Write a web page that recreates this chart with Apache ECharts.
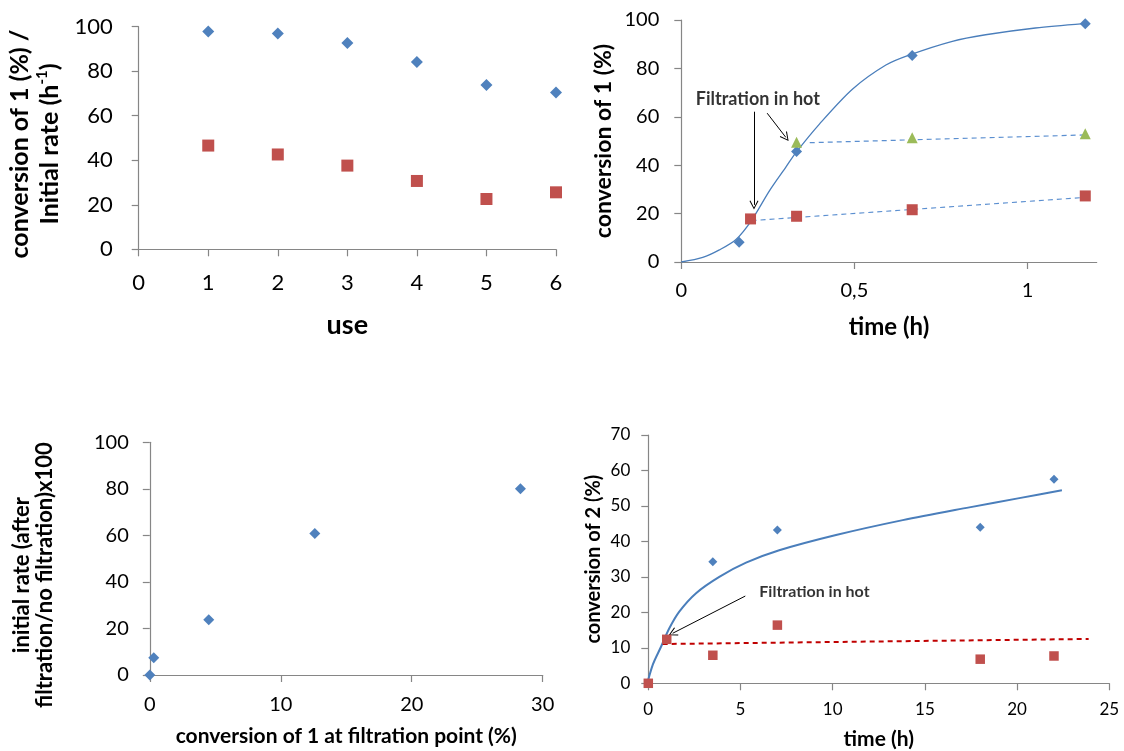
<!DOCTYPE html>
<html>
<head>
<meta charset="utf-8">
<script src="https://cdn.jsdelivr.net/npm/echarts@6/dist/echarts.min.js"></script>
<style>
html,body{margin:0;padding:0;background:#fff;}
#chart{width:1124px;height:751px;}
</style>
</head>
<body>
<div id="chart"></div>
<script>
// ---------- Panel 1: reuse ----------
const useNum = [1, 2, 3, 4, 5, 6];
const useConversion = [97.8, 96.9, 92.7, 84.1, 73.8, 70.4];
const useInitialRate = [46.6, 42.6, 37.6, 30.7, 22.6, 25.6];

// ---------- Panel 2: hot filtration, substrate 1 ----------
const timeNoFilt = [0.167, 0.333, 0.667, 1.167];
const convNoFilt = [8.2, 45.7, 85.3, 98.5];
const timeFiltA = [0.2, 0.333, 0.667, 1.167];
const convFiltA = [17.8, 18.9, 21.6, 27.3];
const timeFiltB = [0.333, 0.667, 1.167];
const convFiltB = [49.5, 51.3, 53.0];
const fitTime1 = [0, 0.062, 0.110, 0.158, 0.202, 0.255, 0.303, 0.330, 0.399, 0.495, 0.591, 0.658, 0.783, 0.879, 1.023, 1.162];
const fitConv1 = [0, 1.9, 5.0, 9.3, 17.0, 29.5, 39.4, 45.0, 57.0, 71.5, 81.4, 85.5, 91.2, 93.9, 96.7, 98.5];
const trendATime = [0.203, 1.167];
const trendAConv = [17.1, 26.7];
const trendBTime = [0.371, 1.167];
const trendBConv = [49.3, 52.5];
const p2xTicks = [0, 0.5, 1];
const note1 = 'Filtration in hot';
const note1At = [0.042, 67.4];
const arrows1 = [[[0.21, 62.1], [0.21, 23.6]], [[0.248, 61.5], [0.302, 51.5]]];

// ---------- Panel 3 ----------
const convAtFiltration = [0, 0.3, 4.5, 12.6, 28.3];
const relRate = [0, 7.4, 23.7, 60.8, 80.0];

// ---------- Panel 4: substrate 2 ----------
const time2NoFilt = [3.5, 7, 18, 22];
const conv2NoFilt = [34.3, 43.2, 44.0, 57.5];
const time2Filt = [0, 1, 3.5, 7, 18, 22];
const conv2Filt = [0, 12.4, 7.9, 16.4, 6.8, 7.7];
const fitTime2 = [-0.16, 0.24, 0.69, 1.14, 1.68, 2.59, 3.85, 5.30, 7.10, 10.18, 13.80, 17.41, 20.12, 22.43];
const fitConv2 = [-2.1, 5.2, 10.3, 15.5, 20.2, 25.4, 30.0, 34.0, 37.5, 41.8, 46.0, 49.6, 52.2, 54.4];
const trend2Time = [0.78, 23.88];
const trend2Conv = [11.07, 12.5];
const note2 = 'Filtration in hot';
const note2At = [6.02, 25.8];
const arrows2 = [[[5.26, 24.6], [1.32, 14.1]]];

// ---------- styling ----------
const FONT = 'Lato';
const AXC = '#868686';
const BLUE = '#4f81bd';
const RED = '#c0504d';
const GREEN = '#9bbb59';
const CURVE = '#4a7ebb';
const ARROW_HEAD = 'path://M0,0 L5,9 L4,9.6 L0,2 L-4,9.6 L-5,9 Z';

const zip = (a, b) => a.map((v, i) => [v, b[i]]);

function axis(gridIndex, min, max, interval, fontSize, margin, extra) {
  return Object.assign({
    type: 'value', gridIndex, min, max, interval,
    axisLine: { show: true, onZero: false, lineStyle: { color: AXC, width: 1.2 } },
    axisTick: { show: true, inside: false, length: 7, lineStyle: { color: AXC, width: 1.2 } },
    splitLine: { show: false },
    axisLabel: { color: '#000', fontFamily: FONT, fontSize, margin },
    nameLocation: 'middle',
    nameTextStyle: { color: '#000', fontFamily: FONT, fontWeight: 'bold' }
  }, extra || {});
}

function scatter(xi, x, y, symbol, size, color) {
  return { type: 'scatter', xAxisIndex: xi, yAxisIndex: xi, data: zip(x, y), symbol, symbolSize: size,
    itemStyle: { color, opacity: 1 }, z: 5 };
}
function line(xi, x, y, color, width, dashed, smooth, clip) {
  return { type: 'line', xAxisIndex: xi, yAxisIndex: xi, data: zip(x, y), showSymbol: false, symbol: 'none',
    smooth: smooth || false, clip: clip === undefined ? true : clip,
    lineStyle: { color, width, type: dashed ? [5, 4] : 'solid' }, z: 3 };
}
function note(xi, text, at, arrows, fontSize) {
  return { type: 'scatter', xAxisIndex: xi, yAxisIndex: xi, data: [at], symbolSize: 0, silent: true, z: 6,
    label: { show: true, position: 'right', distance: 0, formatter: text, color: '#000',
      fontFamily: FONT, fontWeight: 'bold', fontSize },
    markLine: { silent: true, symbol: ['none', ARROW_HEAD], symbolSize: 9, label: { show: false },
      lineStyle: { color: '#000', width: 1, type: 'solid' },
      data: arrows.map(a => [{ coord: a[0] }, { coord: a[1] }]) } };
}

const option = {
  animation: false,
  backgroundColor: '#fff',
  grid: [
    { left: 138.7, top: 26.7, width: 417.3, height: 222.6 },
    { left: 681.3, top: 20, width: 415.4, height: 242 },
    { left: 149.8, top: 442.3, width: 392.9, height: 232.7 },
    { left: 648.3, top: 435, width: 461, height: 248.3 }
  ],
  xAxis: [
    axis(0, 0, 6, 1, 22, 23, { name: 'use', nameGap: 62, nameTextStyle: { color: '#000', fontFamily: FONT, fontWeight: 'bold', fontSize: 27 } }),
    axis(1, 0, 1.2, 0.5, 20, 19, {
      name: 'time (h)', nameGap: 53, nameTextStyle: { color: '#000', fontFamily: FONT, fontWeight: 'bold', fontSize: 24 },
      axisTick: { show: true, length: 7, customValues: p2xTicks, lineStyle: { color: AXC, width: 1.2 } },
      axisLabel: { color: '#000', fontFamily: FONT, fontSize: 20, margin: 19, customValues: p2xTicks,
        formatter: v => String(v).replace('.', ',') } }),
    axis(2, 0, 30, 10, 20, 20, { name: 'conversion of 1 at filtration point (%)', nameGap: 51, nameTextStyle: { color: '#000', fontFamily: FONT, fontWeight: 'bold', fontSize: 21 } }),
    axis(3, 0, 25, 5, 17, 18, { name: 'time (h)', nameGap: 45, nameTextStyle: { color: '#000', fontFamily: FONT, fontWeight: 'bold', fontSize: 21 } })
  ],
  yAxis: [
    axis(0, 0, 100, 20, 22, 26, {
      name: '{a|conversion of 1 (%) /}\n{a|Initial rate (h}{s|-1}{a|)}', nameGap: 74,
      nameTextStyle: { color: '#000', fontFamily: FONT, fontWeight: 'bold', fontSize: 25, lineHeight: 30, padding: [0, 12, 0, 0],
        rich: { a: { fontFamily: FONT, fontWeight: 'bold', fontSize: 25, lineHeight: 30, color: '#000' },
                s: { fontFamily: FONT, fontWeight: 'bold', fontSize: 15, lineHeight: 30, color: '#000', verticalAlign: 'top', padding: [0, 0, 0, 0] } } } }),
    axis(1, 0, 100, 20, 20, 22, { name: 'conversion of 1 (%)', nameGap: 66, nameTextStyle: { color: '#000', fontFamily: FONT, fontWeight: 'bold', fontSize: 23 } }),
    axis(2, 0, 100, 20, 20, 21, { name: 'initial rate (after\nfiltration/no filtration)x100', nameGap: 93,
      nameTextStyle: { color: '#000', fontFamily: FONT, fontWeight: 'bold', fontSize: 22, lineHeight: 23, padding: [0, 33, 0, 0] } }),
    axis(3, 0, 70, 10, 17, 18, { name: 'conversion of 2 (%)', nameGap: 45, nameTextStyle: { color: '#000', fontFamily: FONT, fontWeight: 'bold', fontSize: 20 } })
  ],
  series: [
    // panel 1
    scatter(0, useNum, useConversion, 'diamond', 12, BLUE),
    scatter(0, useNum, useInitialRate, 'rect', 12, RED),
    // panel 2
    line(1, fitTime1, fitConv1, CURVE, 1.3, false, 0.3),
    line(1, trendATime, trendAConv, '#5b8fd0', 1.2, true),
    line(1, trendBTime, trendBConv, '#5b8fd0', 1.2, true),
    scatter(1, timeNoFilt, convNoFilt, 'diamond', 11, BLUE),
    scatter(1, timeFiltA, convFiltA, 'rect', 11, RED),
    scatter(1, timeFiltB, convFiltB, 'triangle', 11, GREEN),
    note(1, note1, note1At, arrows1, 18),
    // panel 3
    scatter(2, convAtFiltration, relRate, 'diamond', 11, BLUE),
    // panel 4
    line(3, fitTime2, fitConv2, CURVE, 2, false, 0.3, false),
    line(3, trend2Time, trend2Conv, '#c00000', 2, true),
    scatter(3, time2NoFilt, conv2NoFilt, 'diamond', 9, BLUE),
    scatter(3, time2Filt, conv2Filt, 'rect', 9.5, RED),
    note(3, note2, note2At, arrows2, 16)
  ]
};

const chart = echarts.init(document.getElementById('chart'), null, { renderer: 'canvas' });
chart.setOption(option);
</script>
</body>
</html>
